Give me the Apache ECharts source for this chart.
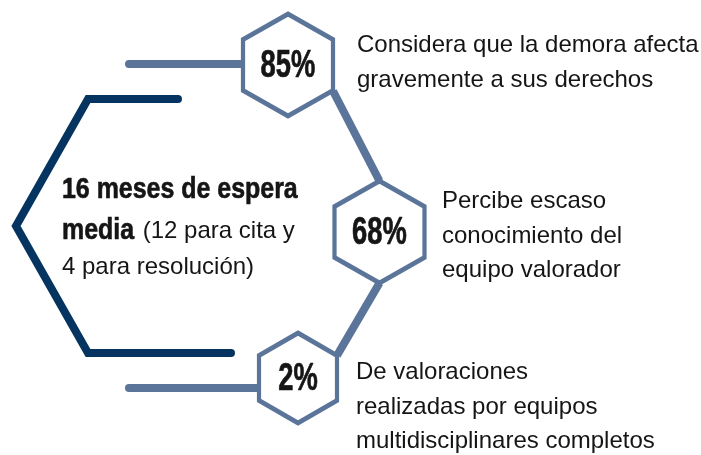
<!DOCTYPE html>
<html>
<head>
<meta charset="utf-8">
<script src="https://cdn.jsdelivr.net/npm/echarts@6/dist/echarts.min.js"></script>
<style>
  html, body { margin: 0; padding: 0; background: #fff; }
  #chart { width: 701px; height: 455px; }
</style>
</head>
<body>
<div id="chart"></div>
<script>
// datos
const porcentajes = [85, 68, 2]
const descripciones = [
  ['Considera que la demora afecta', 'gravemente a sus derechos'],
  ['Percibe escaso', 'conocimiento del', 'equipo valorador'],
  ['De valoraciones', 'realizadas por equipos', 'multidisciplinares completos']
]
const resumenNegrita = ['16 meses de espera', 'media']
const resumenDetalle = ['(12 para cita y', '4 para resolución)']

// maqueta (coordenadas del eje oculto = px del lienzo)
const centros = [[288, 65], [379.5, 232], [298, 378]]
const tamHex = [[90, 102], [90, 102], [78, 90]]
const posTexto = [[357, 63], [442, 236], [356, 407]]
const posResumen = [62, 190]
const corchete = [[178, 99], [88, 99], [16, 226], [88, 353], [231, 353]]
const ramaSup = [[129, 64], [243, 64]]
const ramaInf = [[129, 388], [259, 388]]
const enlace1 = [[333, 91], [379.5, 181]]
const enlace2 = [[379.5, 283], [337, 355.5]]

const ACERO = '#5b7499'
const MARINO = '#04345f'
const TINTA = '#151515'
const FAM = '"Liberation Sans", Arial, sans-serif'
const HEX = 'path://M50,0 L93.3,25 L93.3,75 L50,100 L6.7,75 L6.7,25 Z'
const LH = 34.5
const LH_NEG = 41

function linea(name, pts, color, cap) {
  return {
    name, type: 'line', data: pts, showSymbol: false, silent: true, z: 1,
    lineStyle: { color, width: 8, cap, join: 'miter' }
  }
}

function medir(txt, font) {
  const ctx = document.createElement('canvas').getContext('2d')
  ctx.font = font
  return ctx.measureText(txt).width
}

const chart = echarts.init(document.getElementById('chart'), null, { renderer: 'canvas' })
chart.setOption({
  animation: false,
  backgroundColor: '#fff',
  grid: { left: 0, right: 0, top: 0, bottom: 0 },
  xAxis: { type: 'value', min: 0, max: 701, show: false },
  yAxis: { type: 'value', min: 0, max: 455, inverse: true, show: false },
  series: [
    linea('corchete', corchete, MARINO, 'round'),
    linea('ramaSup', ramaSup, ACERO, 'round'),
    linea('ramaInf', ramaInf, ACERO, 'round'),
    linea('enlace1', enlace1, ACERO, 'butt'),
    linea('enlace2', enlace2, ACERO, 'butt'),
    {
      name: 'hexagonos', type: 'scatter', silent: true, z: 3,
      symbol: HEX,
      symbolSize: (v, p) => tamHex[p.dataIndex],
      itemStyle: { color: '#fff', borderColor: ACERO, borderWidth: 4.5, opacity: 1 },
      data: centros
    }
  ]
})

// textos: colocados con la escala de los ejes
const px = p => chart.convertToPixel({ xAxisIndex: 0, yAxisIndex: 0 }, p)
const fuenteNum = 'bold 38px ' + FAM
const fuenteNeg = 'bold 29px ' + FAM
const fuenteReg = '24px ' + FAM
const escNeg = 0.86

const textos = []
porcentajes.forEach((v, i) => {
  const [x, y] = px(centros[i])
  textos.push({
    type: 'text', x, y: y + 1.5, scaleX: 0.72, z: 10,
    style: {
      text: v + '%', font: fuenteNum, fill: TINTA, stroke: TINTA, lineWidth: 0.7,
      align: 'center', verticalAlign: 'middle'
    }
  })
})
descripciones.forEach((d, i) => {
  const [x, y] = px(posTexto[i])
  textos.push({
    type: 'text', x, y, z: 10,
    style: { text: d.join('\n'), font: fuenteReg, lineHeight: LH, fill: TINTA, align: 'left', verticalAlign: 'middle' }
  })
})
const [rx, ry] = px(posResumen)
textos.push({
  type: 'text', x: rx, y: ry - LH_NEG / 2, scaleX: escNeg, z: 10,
  style: {
    text: resumenNegrita.join('\n'), font: fuenteNeg, lineHeight: LH_NEG, fill: TINTA,
    stroke: TINTA, lineWidth: 0.6, align: 'left', verticalAlign: 'top'
  }
})
const desplaza = medir(resumenNegrita[1], fuenteNeg) * escNeg + medir(' ', fuenteReg) + 2
textos.push({
  type: 'text', x: rx + desplaza, y: ry + LH_NEG, z: 10,
  style: { text: resumenDetalle[0], font: fuenteReg, fill: TINTA, align: 'left', verticalAlign: 'middle' }
})
textos.push({
  type: 'text', x: rx, y: ry + LH_NEG + 36, z: 10,
  style: { text: resumenDetalle[1], font: fuenteReg, fill: TINTA, align: 'left', verticalAlign: 'middle' }
})
chart.setOption({ graphic: textos })
</script>
</body>
</html>
